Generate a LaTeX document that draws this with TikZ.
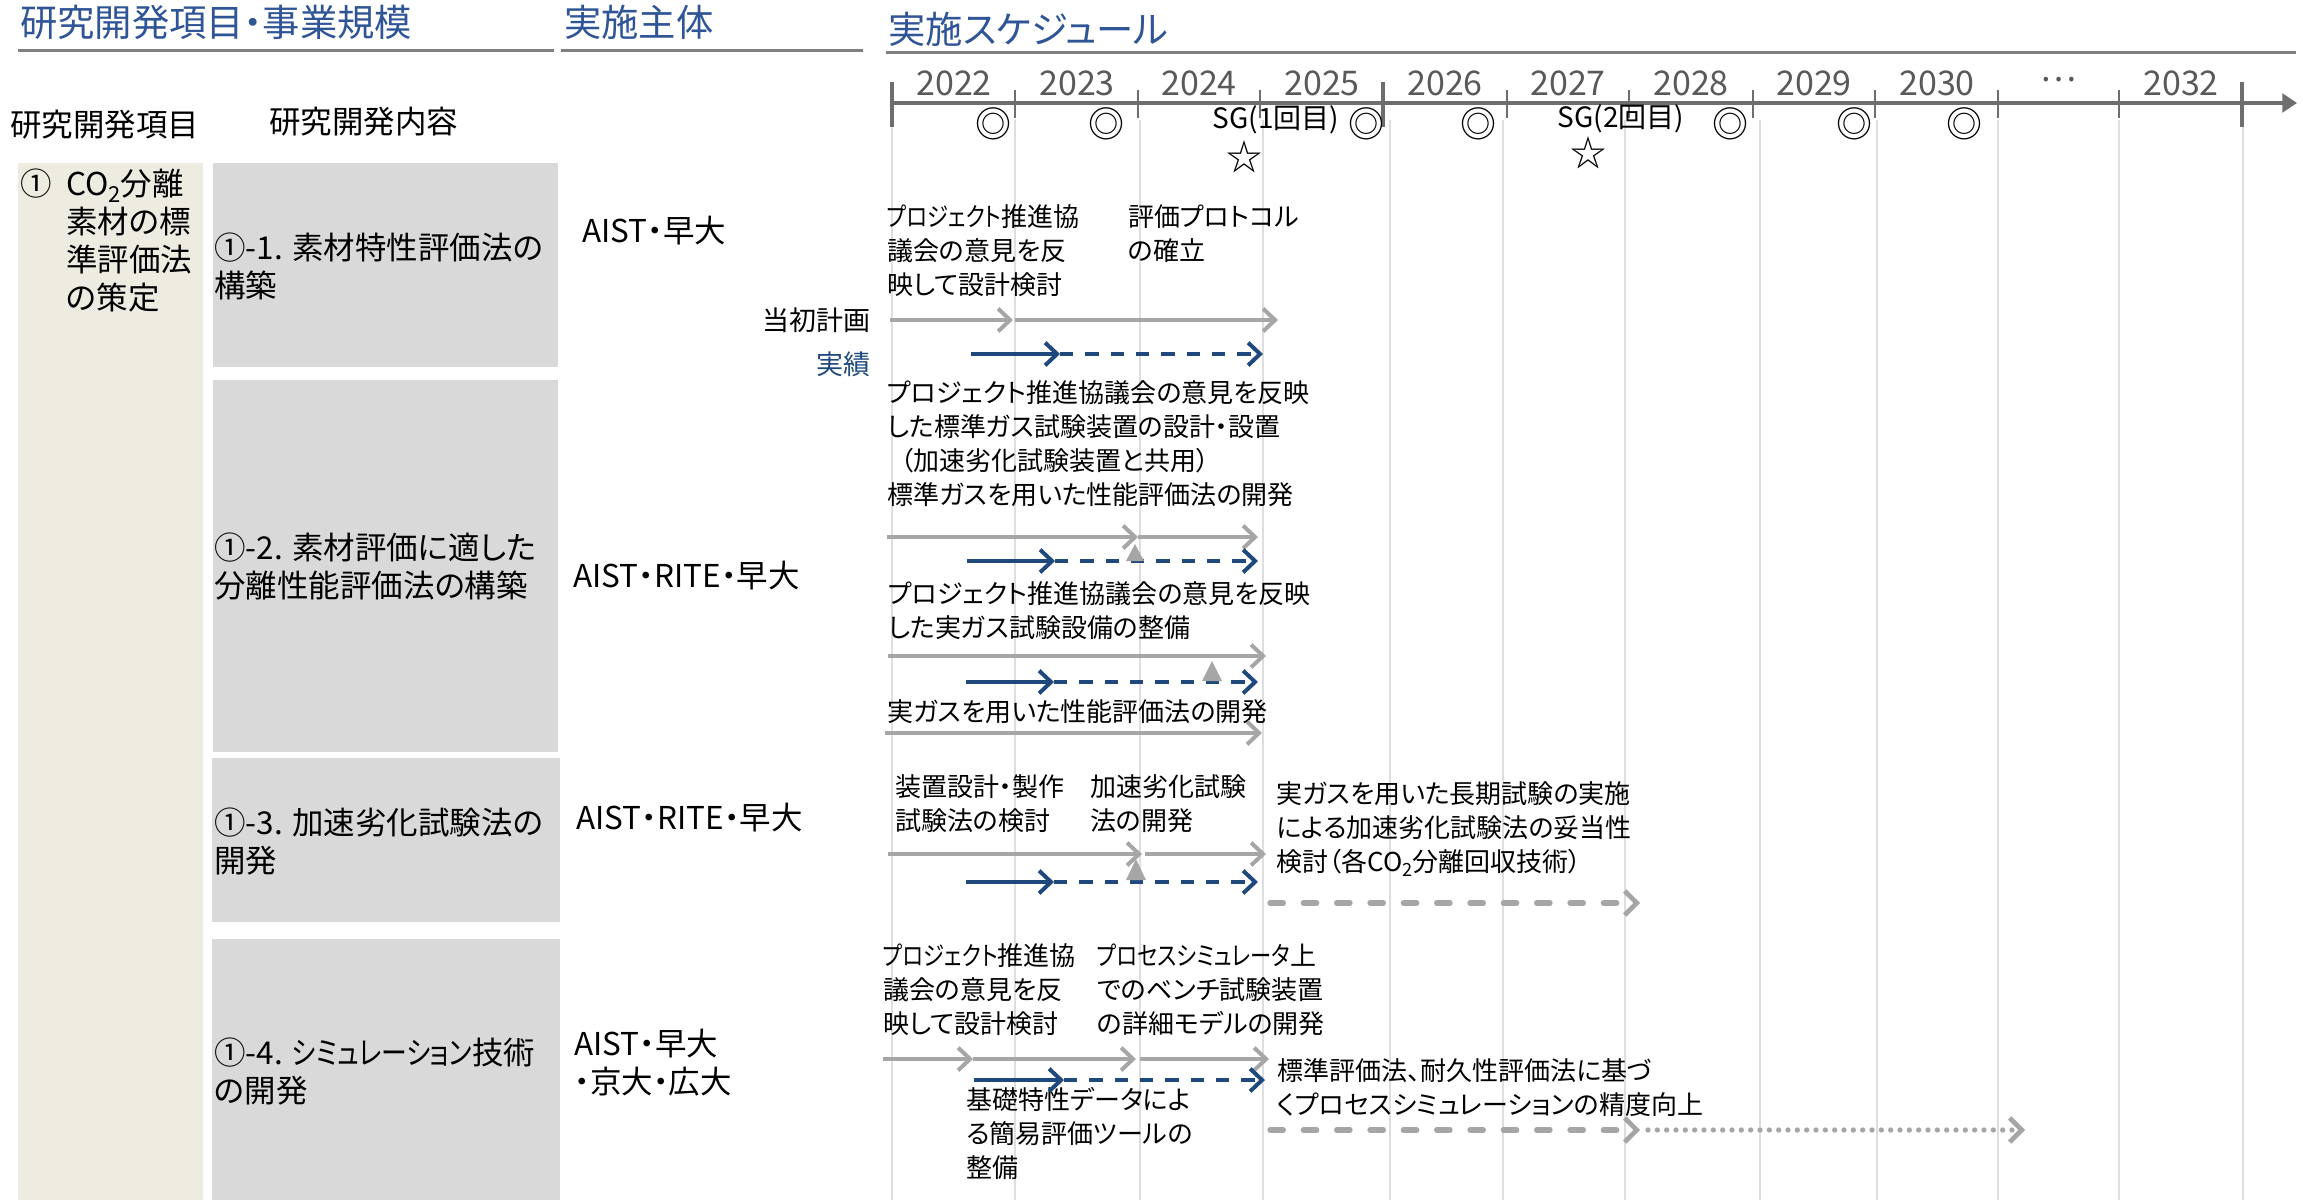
\documentclass[tikz,border=0pt]{standalone}
\usepackage{fontspec}
\setmainfont{Noto Sans CJK JP}[RawFeature=+palt]
\usepackage{xcolor}
\usetikzlibrary{arrows.meta}

\definecolor{HeadBlue}{RGB}{47,85,151}
\definecolor{ActBlue}{RGB}{31,73,125}
\definecolor{PlanGray}{RGB}{166,166,166}
\definecolor{GridGray}{RGB}{222,222,222}
\definecolor{AxisGray}{RGB}{110,110,110}
\definecolor{RuleGray}{RGB}{128,128,128}
\definecolor{BoxGray}{RGB}{217,217,217}
\definecolor{BeigeBg}{RGB}{238,236,225}
\definecolor{YearGray}{RGB}{89,89,89}

\newcommand{\subtwo}{\raisebox{-0.4ex}{\scalebox{0.7}{2}}}
\newcommand{\narrow}[1]{\scalebox{0.82}[1]{#1}}

\tikzset{
  head/.style={font=\fontsize{28}{32}\selectfont, text=HeadBlue, inner sep=0pt, anchor=west},
  rulebar/.style={draw=RuleGray, line width=2.25pt},
  collabel/.style={font=\fontsize{23.6}{28}\selectfont, inner sep=0pt, anchor=west},
  itemtxt/.style={font=\fontsize{23.6}{28.5}\selectfont, inner sep=0pt, anchor=west, align=left},
  yearlbl/.style={font=\fontsize{25.5}{30}\selectfont, text=YearGray, inner sep=0pt},
  milestone/.style={font=\fontsize{27}{30}\selectfont, inner sep=0pt},
  sglbl/.style={font=\fontsize{21}{24}\selectfont, inner sep=0pt},
  legend/.style={font=\fontsize{20.25}{24}\selectfont, inner sep=0pt, anchor=east},
  sched/.style={font=\fontsize{19.5}{25.5}\selectfont, inner sep=0pt, anchor=west, align=left},
  gridline/.style={draw=GridGray, line width=1.5pt},
  plan/.style={draw=PlanGray, line width=3pt, -{Straight Barb[length=9pt,width=17pt]}},
  act/.style={draw=ActBlue, line width=3pt, -{Straight Barb[length=9pt,width=17pt]}},
  actdash/.style={act, dash pattern=on 10pt off 9pt},
  later/.style={draw=PlanGray, line width=4pt, line cap=round, dash pattern=on 10pt off 15pt,
    -{Straight Barb[length=9pt,width=18pt,line width=3.5pt]}},
  vague/.style={draw=PlanGray, line width=4pt, line cap=round, dash pattern=on 0pt off 7pt,
    -{Straight Barb[length=9pt,width=18pt,line width=3.5pt]}},
  trimark/.style={fill=PlanGray}
}

\begin{document}
\begin{tikzpicture}[x=0.75pt,y=0.75pt,yscale=-1,xscale=1]
\useasboundingbox (0,0) rectangle (2303,1200);

%Shape: Rectangle
\fill[BeigeBg] (18,163) rectangle (203,1200);
%Shape: Rectangle
\fill[BoxGray] (213,163) rectangle (558,367);
\fill[BoxGray] (213,380) rectangle (558,752);
\fill[BoxGray] (212,758) rectangle (560,922);
\fill[BoxGray] (212,939) rectangle (560,1200);

%Straight Lines (grid)
\foreach \gx in {892,1015,1140,1263,1390,1503,1625,1760,1877,1998,2119,2243}
  \draw[gridline] (\gx,120) -- (\gx,1200);

% Text Node
\draw (20,22) node (hdrItem) [head] {研究開発項目・事業規模};
% Text Node
\draw (564,22) node (hdrOrg) [head] {実施主体};
% Text Node
\draw (888,29) node (hdrPlan) [head] {実施スケジュール};
%Straight Lines
\draw[rulebar] (18,50) -- (554,50);
\draw[rulebar] (561,50) -- (863,50);
\draw[rulebar] (886,52) -- (2296,52);

%Shape: Axis
\draw[draw=AxisGray, line width=2.5pt, -{Triangle[length=11pt,width=14pt]}] (892,103) -- (2297,103);
\foreach \tx in {892,1383,2242}
  \draw[draw=AxisGray, line width=3pt] (\tx,82) -- (\tx,127);
\foreach \tx in {1015,1138,1260,1507,1629,1753,1875,1998,2119}
  \draw[draw=AxisGray, line width=1.5pt] (\tx,90) -- (\tx,118);

% Text Node
\foreach \yr/\cx in {2022/954,2023/1077,2024/1199,2025/1322,2026/1445,2027/1568,2028/1691,2029/1814,2030/1937,2032/2181}
  \draw (\cx,83) node (yr\yr) [yearlbl] {\yr};
\draw (2058,80) node (yrdots) [yearlbl] {…};

% Text Node
\foreach \mx in {993,1106,1366,1478,1730,1854,1964}
  \draw (\mx,124) node (ms\mx) [milestone] {◎};
\draw (1276,120) node (sg1) [sglbl] {SG(1回目)};
\draw (1244,157) node (star1) [milestone] {☆};
\draw (1621,119) node (sg2) [sglbl] {SG(2回目)};
\draw (1588,153) node (star2) [milestone] {☆};

% Text Node
\draw (10,125) node (colItem) [collabel] {研究開発項目};
\draw (269,122) node (colBody) [collabel] {研究開発内容};

% Text Node
\draw (20,184) node (itemNo) [itemtxt] {①};
\draw (66,241) node (itemName) [itemtxt] {CO\subtwo 分離\\素材の標\\準評価法\\の策定};

% Text Node
\draw (214,266) node (task1) [itemtxt] {①-1. 素材特性評価法の\\構築};
\draw (214,567) node (task2) [itemtxt] {①-2. 素材評価に適した\\分離性能評価法の構築};
\draw (214,842) node (task3) [itemtxt] {①-3. 加速劣化試験法の\\開発};
\draw (214,1072) node (task4) [itemtxt] {①-4. \narrow{シミュレーション}技術\\の開発};

% Text Node
\draw (582,231) node (org1) [itemtxt] {AIST・早大};
\draw (573,576) node (org2) [itemtxt] {AIST・RITE・早大};
\draw (576,818) node (org3) [itemtxt] {AIST・RITE・早大};
\draw (574,1063) node (org4) [itemtxt] {AIST・早大\\・京大・広大};

% Text Node
\draw (871,320) node (lgPlan) [legend] {当初計画};
\draw (871,364) node (lgAct) [legend, text=ActBlue] {実績};

% Text Node
\draw (887,251) node (r1a) [sched] {\narrow{プロジェクト}推進協\\議会の意見を反\\映して設計検討};
\draw (1128,234) node (r1b) [sched] {評価プロトコル\\の確立};
%Straight Lines
\draw[plan] (890,320) -- (1013,320);
\draw[plan] (1015,320) -- (1278,320);
\draw[act] (971,354) -- (1060,354);
\draw[actdash] (1060,354) -- (1263,354);

% Text Node
\draw (887,444) node (r2a) [sched] {プロジェクト推進協議会の意見を反映\\した標準ガス試験装置の設計・設置\\\hspace{0.5em}（加速劣化試験装置と共用）\\標準ガスを用いた性能評価法の開発};
%Straight Lines
\draw[plan] (887,537) -- (1138,537);
\draw[plan] (1138,537) -- (1258,537);
\draw[act] (967,561) -- (1055,561);
\draw[actdash] (1055,561) -- (1258,561);
\fill[trimark] (1126,561) -- (1144,561) -- (1135,544) -- cycle;

% Text Node
\draw (888,611) node (r2b) [sched] {プロジェクト推進協議会の意見を反映\\した実ガス試験設備の整備};
%Straight Lines
\draw[plan] (888,656) -- (1266,656);
\draw[act] (966,682) -- (1054,682);
\draw[actdash] (1054,682) -- (1258,682);
\fill[trimark] (1202,681) -- (1222,681) -- (1212,661) -- cycle;

% Text Node
\draw (887,712) node (r2c) [sched] {実ガスを用いた性能評価法の開発};
%Straight Lines
\draw[plan] (885,733) -- (1262,733);

% Text Node
\draw (895,804) node (r3a) [sched] {装置設計・製作\\試験法の検討};
\draw (1090,804) node (r3b) [sched] {加速劣化試験\\法の開発};
\draw (1276,829) node (r3c) [sched] {実ガスを用いた長期試験の実施\\による加速劣化試験法の妥当性\\検討（各CO\subtwo 分離回収技術）};
%Straight Lines
\draw[plan] (888,854) -- (1142,854);
\draw[plan] (1145,854) -- (1266,854);
\draw[act] (966,882) -- (1054,882);
\draw[actdash] (1054,882) -- (1258,882);
\fill[trimark] (1126,880) -- (1146,880) -- (1136,859) -- cycle;
\draw[later] (1270,903) -- (1640,903);

% Text Node
\draw (883,990) node (r4a) [sched] {\narrow{プロジェクト}推進協\\議会の意見を反\\映して設計検討};
\draw (1097,990) node (r4b) [sched] {\narrow{プロセスシミュレータ}上\\でのベンチ試験装置\\の詳細モデルの開発};
\draw (966,1133) node (r4c) [sched] {基礎特性データによ\\る簡易評価ツールの\\整備};
\draw (1277,1088) node (r4d) [sched] {標準評価法、耐久性評価法に基づ\\くプロセスシミュレーションの精度向上};
%Straight Lines
\draw[plan] (883,1059) -- (973,1059);
\draw[plan] (973,1059) -- (1136,1059);
\draw[plan] (1140,1059) -- (1269,1059);
\draw[act] (974,1080) -- (1064,1080);
\draw[actdash] (1064,1080) -- (1265,1080);
\draw[later] (1270,1130) -- (1640,1130);
\draw[vague] (1648,1130) -- (2025,1130);

\end{tikzpicture}
\end{document}
